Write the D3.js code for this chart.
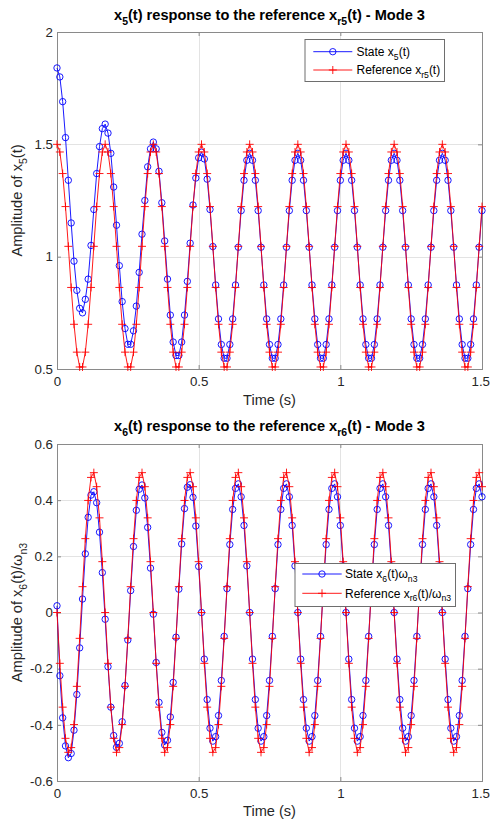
<!DOCTYPE html>
<html><head><meta charset="utf-8">
<script src="https://cdn.jsdelivr.net/npm/d3@7"></script>
<style>
body{margin:0;background:#fff}
svg{display:block}
text{font-family:"Liberation Sans",Arial,Helvetica,sans-serif}
</style>
</head><body>
<svg id="c" width="490" height="821"></svg>
<script>
// ---------- data ----------
const time = d3.range(151).map(i => +(i * 0.01).toFixed(2)); // sampling grid, 0:0.01:1.5

const xTicks = [0, 0.5, 1, 1.5];
const xTickLabels = ["0", "0.5", "1", "1.5"];
const y5Ticks = [0.5, 1, 1.5, 2];
const y5TickLabels = ["0.5", "1", "1.5", "2"];
const y6Ticks = [-0.6, -0.4, -0.2, 0, 0.2, 0.4, 0.6];
const y6TickLabels = ["-0.6", "-0.4", "-0.2", "0", "0.2", "0.4", "0.6"];

const state5 = [
1.84,1.80,1.69,1.53,1.34,1.15,0.98,0.85,0.77,0.75,0.81,0.90,1.05,1.21,1.37,1.49,1.57,
1.59,1.55,1.46,1.31,1.14,0.96,0.80,0.68,0.61,0.61,0.67,0.78,0.93,1.10,1.25,1.40,1.48,
1.51,1.48,1.38,1.24,1.07,0.90,0.74,0.62,0.56,0.56,0.62,0.74,0.89,1.06,1.23,1.35,1.44,
1.465,1.435,1.345,1.21,1.045,0.874,0.723,0.609,0.548,0.548,0.609,0.723,0.874,1.042,1.205,1.34,1.429,
1.46,1.429,1.34,1.205,1.042,0.874,0.723,0.609,0.548,0.548,0.609,0.723,0.874,1.042,1.205,1.34,1.429,
1.46,1.429,1.34,1.205,1.042,0.874,0.723,0.609,0.548,0.548,0.609,0.723,0.874,1.042,1.205,1.34,1.429,
1.46,1.429,1.34,1.205,1.042,0.874,0.723,0.609,0.548,0.548,0.609,0.723,0.874,1.042,1.205,1.34,1.429,
1.46,1.429,1.34,1.205,1.042,0.874,0.723,0.609,0.548,0.548,0.609,0.723,0.874,1.042,1.205,1.34,1.429,
1.46,1.429,1.34,1.205,1.042,0.874,0.723,0.609,0.548,0.548,0.609,0.723,0.874,1.042,1.205
];
const ref5 = [
1.5,1.466,1.37,1.223,1.046,0.863,0.699,0.575,0.509,0.509,0.575,0.699,0.863,1.046,1.223,1.37,1.466,
1.5,1.466,1.37,1.223,1.046,0.863,0.699,0.575,0.509,0.509,0.575,0.699,0.863,1.046,1.223,1.37,1.466,
1.5,1.466,1.37,1.223,1.046,0.863,0.699,0.575,0.509,0.509,0.575,0.699,0.863,1.046,1.223,1.37,1.466,
1.5,1.466,1.37,1.223,1.046,0.863,0.699,0.575,0.509,0.509,0.575,0.699,0.863,1.046,1.223,1.37,1.466,
1.5,1.466,1.37,1.223,1.046,0.863,0.699,0.575,0.509,0.509,0.575,0.699,0.863,1.046,1.223,1.37,1.466,
1.5,1.466,1.37,1.223,1.046,0.863,0.699,0.575,0.509,0.509,0.575,0.699,0.863,1.046,1.223,1.37,1.466,
1.5,1.466,1.37,1.223,1.046,0.863,0.699,0.575,0.509,0.509,0.575,0.699,0.863,1.046,1.223,1.37,1.466,
1.5,1.466,1.37,1.223,1.046,0.863,0.699,0.575,0.509,0.509,0.575,0.699,0.863,1.046,1.223,1.37,1.466,
1.5,1.466,1.37,1.223,1.046,0.863,0.699,0.575,0.509,0.509,0.575,0.699,0.863,1.046,1.223
];
const state6 = [
0.024,-0.225,-0.375,-0.475,-0.517,-0.502,-0.419,-0.292,-0.126,0.048,0.209,0.339,0.418,0.43,0.391,0.286,0.142,
-0.024,-0.193,-0.337,-0.438,-0.48,-0.466,-0.389,-0.26,-0.098,0.078,0.235,0.364,0.439,0.454,0.408,0.303,0.158,
-0.006,-0.178,-0.32,-0.427,-0.472,-0.455,-0.372,-0.249,-0.088,0.083,0.244,0.37,0.446,0.455,0.41,0.308,0.164,
0,-0.166,-0.31,-0.412,-0.458,-0.442,-0.367,-0.242,-0.085,0.085,0.242,0.367,0.442,0.458,0.412,0.31,0.166,
0,-0.166,-0.31,-0.412,-0.458,-0.442,-0.367,-0.242,-0.085,0.085,0.242,0.367,0.442,0.458,0.412,0.31,0.166,
0,-0.166,-0.31,-0.412,-0.458,-0.442,-0.367,-0.242,-0.085,0.085,0.242,0.367,0.442,0.458,0.412,0.31,0.166,
0,-0.166,-0.31,-0.412,-0.458,-0.442,-0.367,-0.242,-0.085,0.085,0.242,0.367,0.442,0.458,0.412,0.31,0.166,
0,-0.166,-0.31,-0.412,-0.458,-0.442,-0.367,-0.242,-0.085,0.085,0.242,0.367,0.442,0.458,0.412,0.31,0.166,
0,-0.166,-0.31,-0.412,-0.458,-0.442,-0.367,-0.242,-0.085,0.085,0.242,0.367,0.442,0.458,0.412
];
const ref6 = [
0,-0.181,-0.337,-0.448,-0.498,-0.481,-0.399,-0.263,-0.092,0.092,0.263,0.399,0.481,0.498,0.448,0.337,0.181,
0,-0.181,-0.337,-0.448,-0.498,-0.481,-0.399,-0.263,-0.092,0.092,0.263,0.399,0.481,0.498,0.448,0.337,0.181,
0,-0.181,-0.337,-0.448,-0.498,-0.481,-0.399,-0.263,-0.092,0.092,0.263,0.399,0.481,0.498,0.448,0.337,0.181,
0,-0.181,-0.337,-0.448,-0.498,-0.481,-0.399,-0.263,-0.092,0.092,0.263,0.399,0.481,0.498,0.448,0.337,0.181,
0,-0.181,-0.337,-0.448,-0.498,-0.481,-0.399,-0.263,-0.092,0.092,0.263,0.399,0.481,0.498,0.448,0.337,0.181,
0,-0.181,-0.337,-0.448,-0.498,-0.481,-0.399,-0.263,-0.092,0.092,0.263,0.399,0.481,0.498,0.448,0.337,0.181,
0,-0.181,-0.337,-0.448,-0.498,-0.481,-0.399,-0.263,-0.092,0.092,0.263,0.399,0.481,0.498,0.448,0.337,0.181,
0,-0.181,-0.337,-0.448,-0.498,-0.481,-0.399,-0.263,-0.092,0.092,0.263,0.399,0.481,0.498,0.448,0.337,0.181,
0,-0.181,-0.337,-0.448,-0.498,-0.481,-0.399,-0.263,-0.092,0.092,0.263,0.399,0.481,0.498,0.448
];

// ---------- layout / style ----------
const svg = d3.select("#c");
const AX = "#262626", GRID = "#e3e3e3";
const BLUE = "#0000ff", RED = "#ff0000";
const TICK_FS = 13.3, LABEL_FS = 14.6, TITLE_FS = 14.6, LEG_FS = 12;

function rich(sel, parts, fs) {
  const sub = fs * 0.72, shift = fs * 0.32;
  let prev = false;
  parts.forEach(([t, s]) => {
    const ts = sel.append("tspan").text(t);
    if (s) ts.attr("font-size", sub);
    if (s && !prev) ts.attr("dy", shift);
    if (!s && prev) ts.attr("dy", -shift);
    prev = s;
  });
}

const panels = [
  {
    top: 32, bottom: 369, yDomain: [0.5, 2], yTicks: y5Ticks, yLabels: y5TickLabels,
    state: state5, ref: ref5, titleY: 20, xlabelY: 405, ylabelX: 22,
    title: [["x",0],["5",1],["(t) response to the reference x",0],["r5",1],["(t) - Mode 3",0]],
    ylabel: [["Amplitude of x",0],["5",1],["(t)",0]],
    leg: {x: 305, y: 39.5, w: 139.5, h: 42, rows: [51.7, 70], l0: 313.3, l1: 352.3, tx: 356.5,
          labels: [[["State x",0],["5",1],["(t)",0]], [["Reference x",0],["r5",1],["(t)",0]]]}
  },
  {
    top: 444, bottom: 781, yDomain: [-0.6, 0.6], yTicks: y6Ticks, yLabels: y6TickLabels,
    state: state6, ref: ref6, titleY: 431, xlabelY: 816, ylabelX: 22,
    title: [["x",0],["6",1],["(t) response to the reference x",0],["r6",1],["(t) - Mode 3",0]],
    ylabel: [["Amplitude of x",0],["6",1],["(t)/ω",0],["n3",1]],
    leg: {x: 295, y: 563.5, w: 160.5, h: 43, rows: [574, 593.3], l0: 302.3, l1: 341.7, tx: 345,
          labels: [[["State x",0],["6",1],["(t)ω",0],["n3",1]], [["Reference x",0],["r6",1],["(t)/ω",0],["n3",1]]]}
  }
];

const x = d3.scaleLinear().domain([0, 1.5]).range([57, 482]);

panels.forEach(p => {
  const y = d3.scaleLinear().domain(p.yDomain).range([p.bottom, p.top]);
  const g = svg.append("g");

  // grid
  g.append("g").selectAll("line").data(xTicks).join("line")
    .attr("x1", d => Math.round(x(d)) + 0.5).attr("x2", d => Math.round(x(d)) + 0.5)
    .attr("y1", p.top).attr("y2", p.bottom).attr("stroke", GRID).attr("stroke-width", 1);
  g.append("g").selectAll("line").data(p.yTicks).join("line")
    .attr("y1", d => Math.round(y(d)) + 0.5).attr("y2", d => Math.round(y(d)) + 0.5)
    .attr("x1", x(0)).attr("x2", x(1.5)).attr("stroke", GRID).attr("stroke-width", 1);

  // box + ticks
  g.append("rect").attr("x", Math.round(x(0)) + 0.5).attr("y", Math.round(p.top) + 0.5)
    .attr("width", Math.round(x(1.5)) - Math.round(x(0)))
    .attr("height", Math.round(p.bottom) - Math.round(p.top))
    .attr("fill", "none").attr("stroke", "#8a8a8a").attr("stroke-width", 1);

  const styleAxis = sel => {
    sel.select(".domain").remove();
    sel.selectAll(".tick line").attr("stroke", "#8a8a8a");
    sel.selectAll(".tick text").attr("fill", AX).attr("font-size", TICK_FS)
      .attr("font-family", '"Liberation Sans",Arial,sans-serif');
  };
  const bx = g.append("g").attr("transform", `translate(0,${p.bottom})`)
    .call(d3.axisBottom(x).tickValues(xTicks).tickFormat((d, i) => xTickLabels[i])
      .tickSizeInner(-4).tickSizeOuter(0).tickPadding(7.5)).call(styleAxis);
  // keep the last label inside the page edge
  bx.selectAll(".tick text").filter(d => d === 1.5).attr("text-anchor", "end").attr("dx", 7.5);
  g.append("g").attr("transform", `translate(0,${p.top})`)
    .call(d3.axisTop(x).tickValues(xTicks).tickFormat("").tickSizeInner(-4).tickSizeOuter(0)).call(styleAxis);
  g.append("g").attr("transform", `translate(${x(0)},0)`)
    .call(d3.axisLeft(y).tickValues(p.yTicks).tickFormat((d, i) => p.yLabels[i])
      .tickSizeInner(-4).tickSizeOuter(0).tickPadding(4)).call(styleAxis);
  g.append("g").attr("transform", `translate(${x(1.5)},0)`)
    .call(d3.axisRight(y).tickValues(p.yTicks).tickFormat("").tickSizeInner(-4).tickSizeOuter(0)).call(styleAxis);

  // series
  const line = d3.line().x((d, i) => x(time[i])).y(d => y(d));
  g.append("path").attr("d", line(p.state)).attr("fill", "none").attr("stroke", BLUE).attr("stroke-width", 0.9);
  g.append("g").selectAll("circle").data(p.state).join("circle")
    .attr("cx", (d, i) => x(time[i])).attr("cy", d => y(d)).attr("r", 3.2)
    .attr("fill", "none").attr("stroke", BLUE).attr("stroke-width", 0.9);
  g.append("path").attr("d", line(p.ref)).attr("fill", "none").attr("stroke", RED).attr("stroke-width", 0.9);
  g.append("g").selectAll("path").data(p.ref).join("path")
    .attr("d", (d, i) => `M${x(time[i]) - 4},${y(d)}H${x(time[i]) + 4}M${x(time[i])},${y(d) - 4}V${y(d) + 4}`)
    .attr("fill", "none").attr("stroke", RED).attr("stroke-width", 0.9);

  // title
  const tt = g.append("text").attr("x", (x(0) + x(1.5)) / 2).attr("y", p.titleY)
    .attr("text-anchor", "middle").attr("font-size", TITLE_FS).attr("font-weight", "bold").attr("fill", "#000");
  rich(tt, p.title, TITLE_FS);

  // x label
  g.append("text").attr("x", (x(0) + x(1.5)) / 2).attr("y", p.xlabelY)
    .attr("text-anchor", "middle").attr("font-size", LABEL_FS).attr("fill", AX).text("Time (s)");

  // y label
  const yl = g.append("text").attr("transform", `translate(${p.ylabelX},${(p.top + p.bottom) / 2}) rotate(-90)`)
    .attr("text-anchor", "middle").attr("font-size", LABEL_FS).attr("fill", AX);
  rich(yl, p.ylabel, LABEL_FS);

  // legend
  const L = p.leg;
  const lg = g.append("g");
  lg.append("rect").attr("x", L.x).attr("y", L.y).attr("width", L.w).attr("height", L.h)
    .attr("fill", "#fff").attr("stroke", "#6e6e6e").attr("stroke-width", 1);
  [[BLUE, "o"], [RED, "+"]].forEach(([c, m], k) => {
    const ry = L.rows[k], mx = (L.l0 + L.l1) / 2;
    lg.append("line").attr("x1", L.l0).attr("x2", L.l1).attr("y1", ry).attr("y2", ry)
      .attr("stroke", c).attr("stroke-width", 0.9);
    if (m === "o") lg.append("circle").attr("cx", mx).attr("cy", ry).attr("r", 3.2)
      .attr("fill", "none").attr("stroke", c).attr("stroke-width", 0.9);
    else lg.append("path").attr("d", `M${mx - 4},${ry}H${mx + 4}M${mx},${ry - 4}V${ry + 4}`)
      .attr("stroke", c).attr("stroke-width", 0.9);
    const t = lg.append("text").attr("x", L.tx).attr("y", ry + 4.2).attr("font-size", LEG_FS).attr("fill", "#000");
    rich(t, L.labels[k], LEG_FS);
  });
});
</script>
</body></html>
